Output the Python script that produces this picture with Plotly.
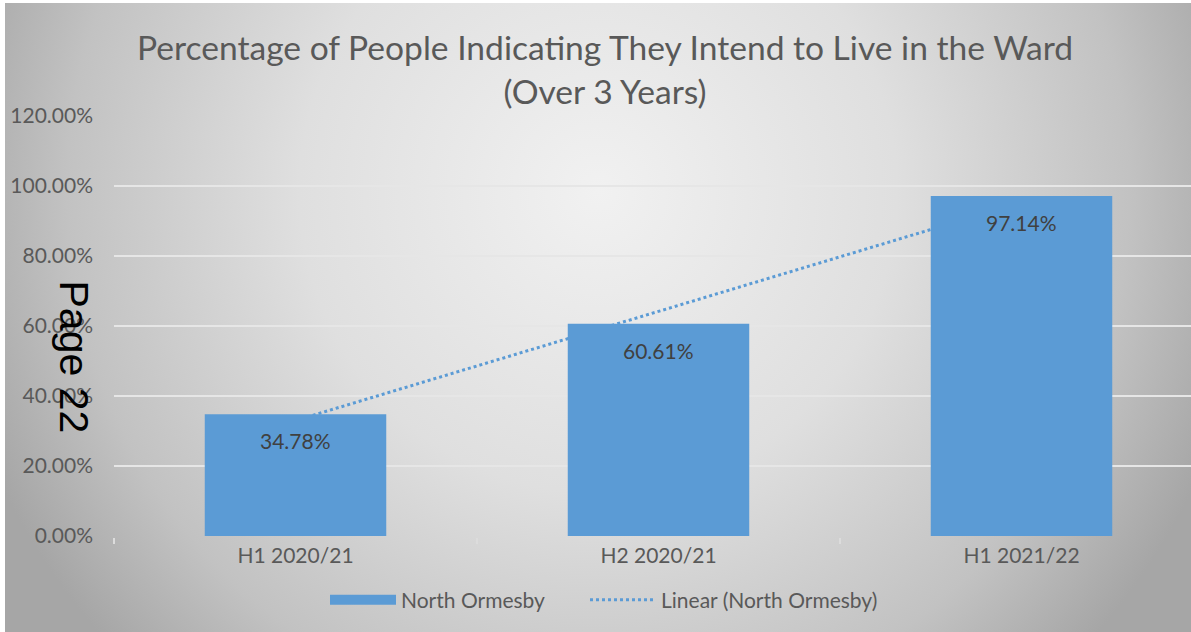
import base64
import numpy as np
import plotly.graph_objects as go

# ---- data ----
categories = ["H1 2020/21", "H2 2020/21", "H1 2021/22"]
values = [34.78, 60.61, 97.14]
value_labels = ["34.78%", "60.61%", "97.14%"]
series_name = "North Ormesby"
trend_name = "Linear (North Ormesby)"
title_text = "Percentage of People Indicating They Intend to Live in the Ward<br>(Over 3 Years)"
y_tick_vals = [0, 20, 40, 60, 80, 100, 120]
y_tick_text = ["0.00%", "20.00%", "40.00%", "60.00%", "80.00%", "100.00%", "120.00%"]

W, H = 1191, 632
BLUE = "#5B9BD5"
FONT = "Lato"
TXT = "#595959"

# linear trendline (least squares, like Excel's "Linear" trendline)
idx = np.arange(len(values))
slope, intercept = np.polyfit(idx, values, 1)
trend_x = [categories[0], categories[-1]]
trend_y = [intercept, intercept + slope * idx[-1]]

# background gradient (Excel chart-area path gradient)
svg = (
    f"<svg xmlns='http://www.w3.org/2000/svg' width='{W}' height='{H}' preserveAspectRatio='none' viewBox='0 0 {W} {H}'>"
    "<defs><radialGradient id='g' cx='0.5' cy='0.3' r='0.56' "
    "gradientTransform='translate(0.5,0.3) scale(1,1.9) translate(-0.5,-0.3)'>"
    "<stop offset='0' stop-color='#f1f1f1'/>"
    "<stop offset='0.45' stop-color='#dfdfdf'/>"
    "<stop offset='0.8' stop-color='#c2c2c2'/>"
    "<stop offset='1' stop-color='#a6a6a6'/>"
    "</radialGradient></defs>"
    f"<rect x='0' y='0' width='{W}' height='{H}' fill='url(#g)'/></svg>"
)
bg_uri = "data:image/svg+xml;base64," + base64.b64encode(svg.encode()).decode()

fig = go.Figure()

fig.add_trace(go.Bar(
    x=categories, y=values, name=series_name,
    marker=dict(color=BLUE, line=dict(width=0)),
    width=0.5, showlegend=False, zorder=1, hoverinfo="x+y",
))

fig.add_trace(go.Scatter(
    x=trend_x, y=trend_y, mode="lines", name=trend_name,
    line=dict(color=BLUE, width=3, dash="dot"),
    showlegend=False, zorder=0,
))

# legend entries
fig.add_trace(go.Scatter(
    x=[None], y=[None], mode="lines", name=series_name,
    line=dict(color=BLUE, width=11), legend="legend",
))
fig.add_trace(go.Scatter(
    x=[None], y=[None], mode="lines", name=trend_name,
    line=dict(color=BLUE, width=3, dash="dot"), legend="legend2",
))

# data labels inside bar ends
for c, v, lab in zip(categories, values, value_labels):
    fig.add_annotation(
        x=c, y=v, text=lab, showarrow=False, yanchor="top", yshift=-12,
        font=dict(family=FONT, size=21, color="#404040"),
    )

# "Page 22" overlay
fig.add_annotation(
    xref="paper", yref="paper", x=(74 - 114) / (W - 114), y=(536 - 356.5) / 420,
    text="Page 22", textangle=90, showarrow=False,
    font=dict(family="Liberation Sans", size=41, color="#000000"),
    xanchor="center", yanchor="middle",
)

leg_common = dict(
    orientation="h", xref="container", yref="container",
    xanchor="left", y=1 - 600 / H, yanchor="middle",
    font=dict(family=FONT, size=21, color=TXT),
    bgcolor="rgba(0,0,0,0)", itemwidth=66,
)

fig.update_layout(
    width=W, height=H,
    margin=dict(l=114, r=0, t=116, b=96),
    paper_bgcolor="#ffffff",
    plot_bgcolor="rgba(0,0,0,0)",
    font=dict(family=FONT, color=TXT),
    title=dict(
        text=title_text, x=605 / W, xanchor="center",
        yref="container", y=1 - 60 / H, yanchor="top",
        font=dict(family=FONT, size=33.6, color=TXT),
    ),
    images=[dict(
        source=bg_uri, xref="paper", yref="paper",
        x=(5 - 114) / (W - 114), y=(536 - 3) / 420,
        sizex=(W - 5) / (W - 114), sizey=(H - 3) / 420,
        xanchor="left", yanchor="top", sizing="stretch", layer="below",
    )],
    legend=dict(x=(329 - 4) / W, **leg_common),
    legend2=dict(x=(590 - 5) / W, **leg_common),
    showlegend=True,
)

fig.update_xaxes(
    type="category", range=[-0.5, -0.5 + (W - 114) / 363],
    showline=True, linecolor="#dcdcdc", linewidth=2,
    ticks="outside", tickson="boundaries", ticklen=6, tickcolor="#dcdcdc", tickwidth=2,
    showgrid=False, tickfont=dict(family=FONT, size=21, color=TXT),
    fixedrange=True,
)
fig.update_yaxes(
    range=[0, 120], tickvals=y_tick_vals, ticktext=y_tick_text,
    showgrid=True, gridcolor="#e6e6e6", gridwidth=2,
    zeroline=False, showline=False, ticks="",
    ticklabelstandoff=20,
    tickfont=dict(family=FONT, size=21, color=TXT),
    fixedrange=True,
)

fig.write_html(
    "out.html",
    config={"displayModeBar": False},
    post_script="document.body.style.margin='0';document.body.style.padding='0';",
)
